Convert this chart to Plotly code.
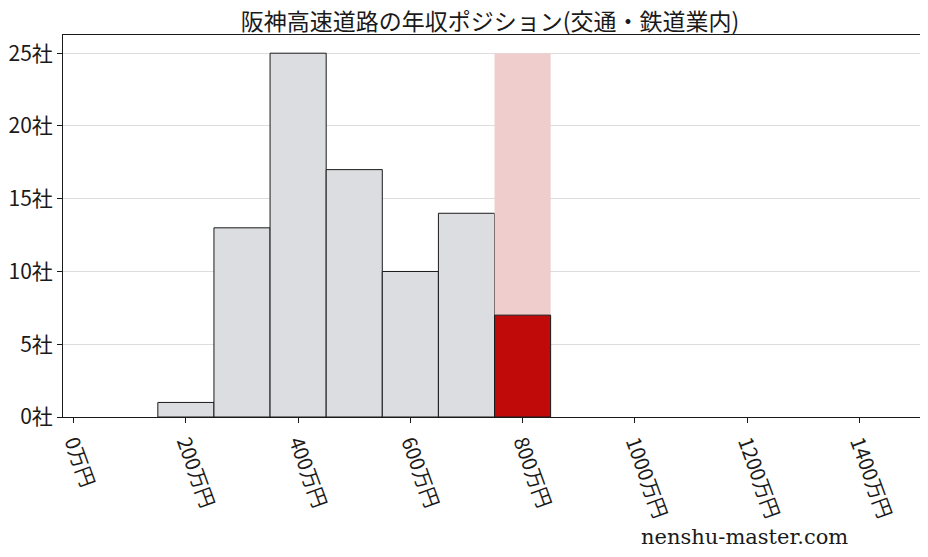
import plotly.graph_objects as go

# 年収帯(万円)ごとの企業数
bin_centers = [200, 300, 400, 500, 600, 700]
company_counts = [1, 13, 25, 17, 10, 14]

# 対象企業の年収帯
target_center = 800
target_count = 7
max_count = 25

x_ticks = [0, 200, 400, 600, 800, 1000, 1200, 1400]
x_labels = [f"{v}万円" for v in x_ticks]
y_ticks = [0, 5, 10, 15, 20, 25]
y_labels = [f"{v}社" for v in y_ticks]

jp_font = "Noto Sans CJK JP"

fig = go.Figure()

fig.add_trace(go.Bar(
    x=bin_centers, y=company_counts, width=100,
    marker=dict(color="#dcdde0", line=dict(color="#1a1a1a", width=1)),
    showlegend=False,
))
fig.add_trace(go.Bar(
    x=[target_center], y=[max_count], width=100,
    marker=dict(color="#f0cdcd", line=dict(color="#f0cdcd", width=0)),
    showlegend=False,
))
fig.add_trace(go.Bar(
    x=[target_center], y=[target_count], width=100,
    marker=dict(color="#c00a0a", line=dict(color="#1a1a1a", width=1)),
    showlegend=False,
))

# the page body adds an 8px margin, so the figure is a bit smaller than the window
fig.update_layout(
    barmode="overlay",
    width=920, height=549,
    margin=dict(l=55, r=7, t=27, b=140),
    paper_bgcolor="white", plot_bgcolor="white",
    title=dict(text="阪神高速道路の年収ポジション(交通・鉄道業内)",
               xref="container", x=0.524, xanchor="center",
               yref="container", y=0.99, yanchor="top",
               font=dict(family=jp_font, size=23, color="#1a1a1a")),
    font=dict(family=jp_font, color="#1a1a1a"),
)

fig.update_xaxes(
    range=[-19, 1510], tickvals=x_ticks, ticktext=x_labels, tickangle=70,
    tickfont=dict(size=20), ticks="outside", ticklen=5, tickcolor="#1a1a1a",
    showline=True, linecolor="#1a1a1a", linewidth=1, mirror=True,
    showgrid=False, zeroline=False, automargin=False,
)
fig.update_yaxes(
    range=[0, 26.25], tickvals=y_ticks, ticktext=y_labels,
    tickfont=dict(size=21), ticks="outside", ticklen=5, tickcolor="#1a1a1a",
    showline=True, linecolor="#1a1a1a", linewidth=1, mirror=True,
    showgrid=True, gridcolor="#dddddd", gridwidth=1, zeroline=False,
    automargin=False,
)

fig.add_annotation(
    text="nenshu-master.com", xref="paper", yref="paper",
    x=0.794, y=-0.314, xanchor="center", yanchor="middle", showarrow=False,
    font=dict(family="DejaVu Serif", size=21, color="#1a1a1a"),
)

fig.write_html("out.html")
